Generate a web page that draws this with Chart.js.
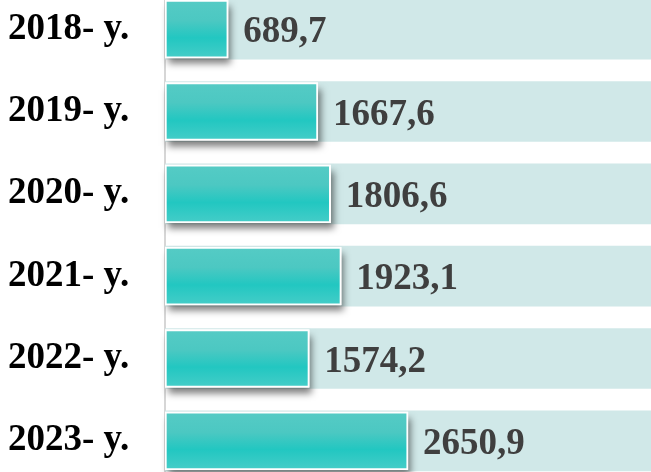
<!DOCTYPE html>
<html>
<head>
<meta charset="utf-8">
<script src="https://cdn.jsdelivr.net/npm/chart.js@4"></script>
<style>
html,body{margin:0;padding:0;background:#fff;overflow:hidden;}
#wrap{position:absolute;left:0;top:-12px;width:651px;height:494px;}
</style>
</head>
<body>
<div id="wrap"><canvas id="c"></canvas></div>
<script>
const categories = ["2018- y.", "2019- y.", "2020- y.", "2021- y.", "2022- y.", "2023- y."];
const values = [689.7, 1667.6, 1806.6, 1923.1, 1574.2, 2650.9];
const valueLabels = ["689,7", "1667,6", "1806,6", "1923,1", "1574,2", "2650,9"];
const axisMax = 5300;
const track = categories.map(() => axisMax);

const barStyle = {
  id: 'barStyle',
  beforeDatasetDraw(chart, args) {
    if (args.index !== 1) return;
    const ctx = chart.ctx;
    const meta = chart.getDatasetMeta(1);
    ctx.save();
    ctx.shadowColor = 'rgba(0,0,0,0.5)';
    ctx.shadowBlur = 7;
    ctx.shadowOffsetX = 3;
    ctx.shadowOffsetY = 6;
    ctx.fillStyle = '#FFFFFF';
    meta.data.forEach(el => {
      const h = el.height;
      const top = el.y - h / 2;
      ctx.fillRect(el.base, top, el.x - el.base, h);
    });
    ctx.restore();
    meta.data.forEach(el => {
      const h = el.height;
      const top = el.y - h / 2;
      const g = ctx.createLinearGradient(0, top, 0, top + h);
      g.addColorStop(0, '#55CBC5');
      g.addColorStop(0.35, '#4CC8C2');
      g.addColorStop(0.65, '#22C7C1');
      g.addColorStop(1, '#45CDC8');
      el.options.backgroundColor = g;
    });
  },
  afterDatasetsDraw(chart) {
    const ctx = chart.ctx;
    const meta = chart.getDatasetMeta(1);
    ctx.save();
    ctx.font = 'bold 37px "Liberation Serif", "Times New Roman", serif';
    ctx.fillStyle = '#3F3F3F';
    ctx.textAlign = 'left';
    ctx.textBaseline = 'alphabetic';
    meta.data.forEach((el, i) => {
      ctx.fillText(valueLabels[i], el.x + 15, el.y + 13);
    });
    ctx.restore();
  }
};

new Chart(document.getElementById('c'), {
  type: 'bar',
  data: {
    labels: categories,
    datasets: [
      {
        data: track,
        backgroundColor: '#D0E8E8',
        barThickness: 60,
        grouped: false,
        order: 2
      },
      {
        data: values,
        backgroundColor: () => '#2CC6C0',
        borderColor: '#FFFFFF',
        borderWidth: 2,
        borderSkipped: false,
        barThickness: 58,
        grouped: false,
        order: 1
      }
    ]
  },
  options: {
    indexAxis: 'y',
    responsive: true,
    maintainAspectRatio: false,
    animation: false,
    layout: { autoPadding: false, padding: { left: 8, right: 0, top: 0, bottom: 0 } },
    plugins: { legend: { display: false }, tooltip: { enabled: false } },
    scales: {
      x: { display: false, min: 0, max: axisMax },
      y: {
        afterFit(scale) {
          scale.width = 157;
          scale.paddingTop = 0;
          scale.paddingBottom = 0;
        },
        grid: { display: false },
        border: { display: true, color: '#D6D6D6', width: 2 },
        ticks: {
          crossAlign: 'far',
          color: '#000000',
          padding: 0,
          font: { family: '"Liberation Serif", "Times New Roman", serif', size: 37, weight: 'bold' }
        }
      }
    }
  },
  plugins: [barStyle]
});
</script>
</body>
</html>
